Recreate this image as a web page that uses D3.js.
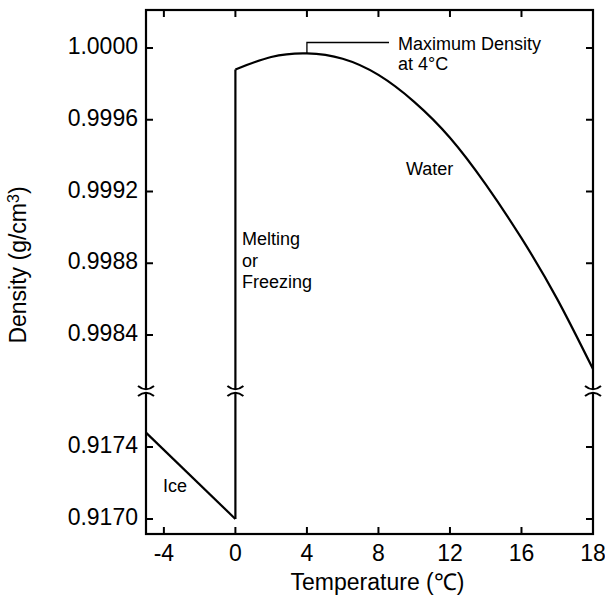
<!DOCTYPE html>
<html>
<head>
<meta charset="utf-8">
<script src="https://d3js.org/d3.v7.min.js"></script>
<style>
body { margin: 0; background: #fff; }
text { font-family: "Liberation Sans", Arial, Helvetica, sans-serif; fill: #000; }
</style>
</head>
<body>
<div id="chart"></div>
<script>
// data
var waterTemp = [0, 2, 4, 6, 8, 10, 12, 14, 16, 18, 20];
var waterDensity = [0.99988, 0.99995, 0.99997, 0.99994, 0.99985, 0.99970, 0.99950, 0.99924, 0.99894, 0.99860, 0.99821];
var iceTemp = [-5, 0];
var iceDensity = [0.91748, 0.91700];

var xTicks = [-4, 0, 4, 8, 12, 16, 20];
var xTickLabels = ["-4", "0", "4", "8", "12", "16", "18"];
var yTicksUpper = [0.9984, 0.9988, 0.9992, 0.9996, 1.0000];
var yTicksLower = [0.9170, 0.9174];

var W = 605, H = 605;
var mLeft = 146, mRight = 593, mTop = 10, mBottom = 534, breakY = 391;

var svg = d3.select("#chart").append("svg")
  .attr("width", W).attr("height", H);

var x = d3.scaleLinear().domain([-5, 20]).range([mLeft, mRight]);
// two pieces of a broken y axis, same units per pixel
var yUp = d3.scaleLinear().domain([0.9984, 1.0000]).range([335, 48]);
var yLo = d3.scaleLinear().domain([0.9170, 0.9174]).range([519, 447]);

// frame
svg.append("rect")
  .attr("x", mLeft).attr("y", mTop)
  .attr("width", mRight - mLeft).attr("height", mBottom - mTop)
  .attr("fill", "none").attr("stroke", "#000").attr("stroke-width", 2.2);

var tickLen = 7;

// x ticks, bottom and top, pointing inward
xTicks.forEach(function(t, i) {
  if (t > -5 && t < 20) {
    svg.append("line").attr("x1", x(t)).attr("x2", x(t))
      .attr("y1", mBottom).attr("y2", mBottom - tickLen)
      .attr("stroke", "#000").attr("stroke-width", 2);
    svg.append("line").attr("x1", x(t)).attr("x2", x(t))
      .attr("y1", mTop).attr("y2", mTop + tickLen)
      .attr("stroke", "#000").attr("stroke-width", 2);
  }
  svg.append("text")
    .attr("x", x(t)).attr("y", 561)
    .attr("text-anchor", "middle")
    .style("font-size", "23px")
    .text(xTickLabels[i]);
});

// y ticks on both sides
function yTick(ypos, label) {
  svg.append("line").attr("x1", mLeft).attr("x2", mLeft + tickLen)
    .attr("y1", ypos).attr("y2", ypos)
    .attr("stroke", "#000").attr("stroke-width", 2);
  svg.append("line").attr("x1", mRight).attr("x2", mRight - tickLen)
    .attr("y1", ypos).attr("y2", ypos)
    .attr("stroke", "#000").attr("stroke-width", 2);
  svg.append("text")
    .attr("x", mLeft - 8).attr("y", ypos + 6)
    .attr("text-anchor", "end")
    .style("font-size", "23px")
    .text(label);
}
yTicksUpper.forEach(function(v) { yTick(yUp(v), v.toFixed(4)); });
yTicksLower.forEach(function(v) { yTick(yLo(v), v.toFixed(4)); });

// ice line
var iceLine = d3.line()
  .x(function(d, i) { return x(iceTemp[i]); })
  .y(function(d) { return yLo(d); });
svg.append("path")
  .attr("d", iceLine(iceDensity))
  .attr("fill", "none").attr("stroke", "#000").attr("stroke-width", 2.2);

// melting / freezing vertical
svg.append("line")
  .attr("x1", x(0)).attr("x2", x(0))
  .attr("y1", yLo(iceDensity[1])).attr("y2", yUp(waterDensity[0]))
  .attr("stroke", "#000").attr("stroke-width", 2.2);

// water curve
var waterLine = d3.line()
  .x(function(d, i) { return x(waterTemp[i]); })
  .y(function(d) { return yUp(d); })
  .curve(d3.curveNatural);
svg.append("path")
  .attr("d", waterLine(waterDensity))
  .attr("fill", "none").attr("stroke", "#000").attr("stroke-width", 2.2);

// break marks
function breakMark(cx, cy) {
  var hw = 8;
  svg.append("path")
    .attr("d", "M" + (cx - hw) + "," + (cy - 5) + " Q" + cx + "," + (cy + 1.6) + " " + (cx + hw) + "," + (cy - 5) +
               " L" + (cx + hw) + "," + (cy + 5) + " Q" + cx + "," + (cy - 1.6) + " " + (cx - hw) + "," + (cy + 5) + " Z")
    .attr("fill", "#fff").attr("stroke", "none");
  svg.append("path")
    .attr("d", "M" + (cx - hw) + "," + (cy - 5) + " Q" + cx + "," + (cy + 1.6) + " " + (cx + hw) + "," + (cy - 5))
    .attr("fill", "none").attr("stroke", "#000").attr("stroke-width", 2);
  svg.append("path")
    .attr("d", "M" + (cx - hw) + "," + (cy + 5) + " Q" + cx + "," + (cy - 1.6) + " " + (cx + hw) + "," + (cy + 5))
    .attr("fill", "none").attr("stroke", "#000").attr("stroke-width", 2);
}
breakMark(mLeft, breakY);
breakMark(x(0), breakY);
breakMark(mRight, breakY);

// maximum density annotation
var peakX = x(4), peakY = yUp(0.99997);
svg.append("path")
  .attr("d", "M" + peakX + "," + peakY + " V42.5 H389")
  .attr("fill", "none").attr("stroke", "#000").attr("stroke-width", 1.3);
svg.append("text").attr("x", 398).attr("y", 50)
  .style("font-size", "18px").text("Maximum Density");
svg.append("text").attr("x", 398).attr("y", 70)
  .style("font-size", "18px").text("at 4°C");

svg.append("text").attr("x", 406).attr("y", 175)
  .style("font-size", "18px").text("Water");

var melt = svg.append("text").style("font-size", "18px");
melt.append("tspan").attr("x", 242).attr("y", 245).text("Melting");
melt.append("tspan").attr("x", 242).attr("y", 267).text("or");
melt.append("tspan").attr("x", 242).attr("y", 288).text("Freezing");

svg.append("text").attr("x", 163).attr("y", 492)
  .style("font-size", "18px").text("Ice");

// axis titles
svg.append("text")
  .attr("x", (mLeft + mRight) / 2 + 8).attr("y", 590)
  .attr("text-anchor", "middle")
  .style("font-size", "23px")
  .text("Temperature (℃)");

var yt = svg.append("text")
  .attr("transform", "translate(26,265) rotate(-90)")
  .attr("text-anchor", "middle")
  .style("font-size", "23px");
yt.append("tspan").text("Density (g/cm");
yt.append("tspan").attr("dy", -7).style("font-size", "16px").text("3");
yt.append("tspan").attr("dy", 7).text(")");
</script>
</body>
</html>
